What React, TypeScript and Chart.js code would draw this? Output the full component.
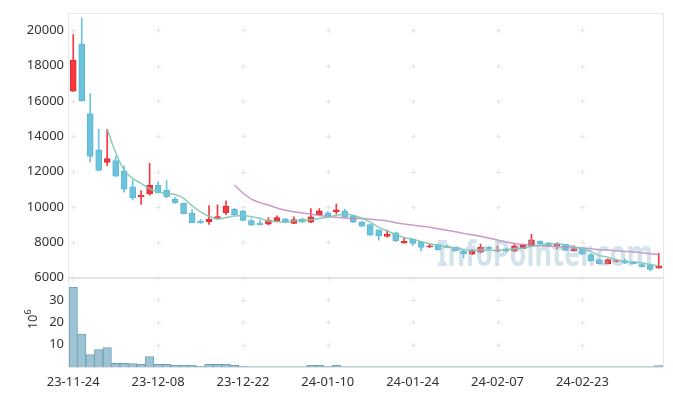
import React, { useEffect, useRef } from 'react';
import { Chart, registerables } from 'chart.js';

Chart.register(...registerables);

const dates = [
  '23-11-24', '23-11-27', '23-11-28', '23-11-29', '23-11-30', '23-12-01', '23-12-04', '23-12-05', '23-12-06', '23-12-07',
  '23-12-08', '23-12-11', '23-12-12', '23-12-13', '23-12-14', '23-12-15', '23-12-18', '23-12-19', '23-12-20', '23-12-21',
  '23-12-22', '23-12-26', '23-12-27', '23-12-28', '24-01-02', '24-01-03', '24-01-04', '24-01-05', '24-01-08', '24-01-09',
  '24-01-10', '24-01-11', '24-01-12', '24-01-15', '24-01-16', '24-01-17', '24-01-18', '24-01-19', '24-01-22', '24-01-23',
  '24-01-24', '24-01-25', '24-01-26', '24-01-29', '24-01-30', '24-01-31', '24-02-01', '24-02-02', '24-02-05', '24-02-06',
  '24-02-07', '24-02-08', '24-02-13', '24-02-14', '24-02-15', '24-02-16', '24-02-19', '24-02-20', '24-02-21', '24-02-22',
  '24-02-23', '24-02-26', '24-02-27', '24-02-28', '24-02-29', '24-03-04', '24-03-05', '24-03-06', '24-03-07', '24-03-08',
];

const opens = [
  16565, 19235, 15300, 13240, 12530, 12630, 12050, 11150, 10570, 10740,
  11230, 10950, 10440, 10220, 9660, 9200, 9170, 9380, 9680, 9865,
  9790, 9230, 9090, 9030, 9200, 9330, 9080, 9310, 9140, 9550,
  9680, 9740, 9780, 9500, 9140, 9010, 8710, 8340, 8540, 7960,
  8170, 8000, 7740, 7880, 7810, 7720, 7500, 7330, 7440, 7740,
  7500, 7630, 7500, 7650, 7810, 8080, 7980, 7790, 7890, 7530,
  7650, 7310, 7030, 6790, 6920, 6970, 6900, 6750, 6710, 6540,
];

const highs = [
  19760, 20700, 16430, 14400, 14400, 12890, 12330, 11540, 10930, 12480,
  11430, 11500, 10540, 10230, 9860, 9300, 10090, 10130, 10350, 9930,
  9800, 9330, 9270, 9400, 9500, 9350, 9440, 9370, 9920, 9920,
  9740, 10170, 9890, 9530, 9210, 9050, 8730, 8690, 8580, 8260,
  8200, 8060, 7890, 7900, 7870, 7740, 7610, 7610, 7910, 7780,
  7790, 7660, 7870, 7900, 8450, 8090, 8000, 7980, 7910, 7810,
  7680, 7380, 7050, 7050, 7010, 7070, 6930, 6780, 6750, 7400,
];

const lows = [
  16550, 16000, 12550, 12050, 12350, 11700, 10850, 10400, 10150, 10670,
  10780, 10520, 10200, 9610, 9110, 9080, 9020, 9310, 9570, 9520,
  9210, 8960, 8970, 8990, 9160, 9120, 9060, 9130, 9120, 9520,
  9380, 9610, 9430, 9120, 8880, 8390, 8130, 8300, 8040, 7950,
  7810, 7510, 7700, 7560, 7680, 7500, 7120, 7310, 7400, 7580,
  7480, 7460, 7480, 7640, 7800, 7900, 7760, 7610, 7530, 7500,
  7310, 6930, 6770, 6770, 6880, 6800, 6770, 6600, 6390, 6540,
];

const closes = [
  18320, 16005, 12870, 12070, 12740, 11750, 11020, 10520, 10670, 11230,
  10820, 10570, 10240, 9620, 9120, 9100, 9310, 9465, 10035, 9560,
  9250, 8970, 8990, 9270, 9400, 9140, 9290, 9140, 9440, 9780,
  9480, 9850, 9440, 9140, 8920, 8410, 8360, 8450, 8080, 8060,
  7940, 7720, 7800, 7580, 7720, 7530, 7350, 7530, 7720, 7610,
  7570, 7500, 7810, 7850, 8150, 7910, 7780, 7890, 7550, 7650,
  7330, 6970, 6790, 7030, 6970, 6820, 6800, 6620, 6470, 6670,
];

// volume in millions of shares
const volumes = [
  35.8, 14.8, 5.6, 7.8, 8.7, 1.7, 1.7, 1.5, 1.2, 4.7,
  1.2, 1.2, 0.8, 0.8, 0.8, 0.3, 1.2, 1.2, 1.2, 0.7,
  0.15, 0.12, 0.12, 0.1, 0.12, 0.1, 0.1, 0.12, 0.7, 0.7,
  0.15, 0.7, 0.12, 0.1, 0.12, 0.1, 0.1, 0.1, 0.12, 0.1,
  0.1, 0.1, 0.1, 0.1, 0.1, 0.1, 0.1, 0.1, 0.1, 0.1,
  0.1, 0.1, 0.1, 0.1, 0.12, 0.1, 0.1, 0.1, 0.1, 0.1,
  0.1, 0.1, 0.1, 0.1, 0.1, 0.1, 0.1, 0.1, 0.12, 0.6,
];

const priceTicks = [6000, 8000, 10000, 12000, 14000, 16000, 18000, 20000];
const volumeTicks = [10, 20, 30];
const labelEvery = 10;
const maShort = 5;
const maLong = 20;

const UP = '#f23a3f';
const UP_BORDER = '#dc2a2f';
const DOWN = '#6cc3dd';
const DOWN_BORDER = '#5fb8d3';
const FONT = '"Noto Sans", sans-serif';
const TEXT = '#333333';

function movingAverage(values: number[], win: number) {
  return values.map((_, i) => {
    if (i < win - 1) return null;
    let s = 0;
    for (let k = i - win + 1; k <= i; k++) s += values[k];
    return s / win;
  });
}

const decor = {
  id: 'decor',
  beforeDatasetsDraw(chart: any) {
    const { ctx, scales } = chart;
    const x = scales.x;
    const y = scales.y;
    const v = scales.v;
    const left = x.left;
    const right = x.right;
    ctx.save();
    // frame
    ctx.strokeStyle = '#e8e8e8';
    ctx.lineWidth = 1;
    ctx.beginPath();
    ctx.moveTo(Math.round(left) - 0.5, y.top);
    ctx.lineTo(Math.round(left) - 0.5, v.bottom);
    ctx.moveTo(left, Math.round(y.top) + 0.5);
    ctx.lineTo(right, Math.round(y.top) + 0.5);
    ctx.moveTo(Math.round(right) + 0.5, y.top);
    ctx.lineTo(Math.round(right) + 0.5, v.bottom);
    ctx.stroke();
    ctx.lineWidth = 2;
    ctx.strokeStyle = '#e4e4e4';
    ctx.beginPath();
    ctx.moveTo(left, Math.round(y.bottom));
    ctx.lineTo(right, Math.round(y.bottom));
    ctx.moveTo(left, Math.round(v.bottom));
    ctx.lineTo(right, Math.round(v.bottom));
    ctx.stroke();
    // plus markers
    ctx.strokeStyle = '#e4e4e4';
    ctx.lineWidth = 1;
    const xs: number[] = [];
    for (let i = 0; i < dates.length; i += labelEvery) xs.push(Math.round(x.getPixelForValue(i)) + 0.5);
    const ys: number[] = [];
    priceTicks.forEach((t) => ys.push(Math.round(y.getPixelForValue(t)) + 0.5));
    volumeTicks.forEach((t) => ys.push(Math.round(v.getPixelForValue(t)) + 0.5));
    ctx.beginPath();
    xs.forEach((px) => {
      ys.forEach((py) => {
        ctx.moveTo(px - 2.5, py);
        ctx.lineTo(px + 2.5, py);
        ctx.moveTo(px, py - 2.5);
        ctx.lineTo(px, py + 2.5);
      });
    });
    ctx.stroke();
    ctx.restore();
  },
  afterDatasetsDraw(chart: any) {
    const { ctx, scales } = chart;
    const v = scales.v;
    ctx.save();
    // watermark
    ctx.font = 'bold 36px ' + FONT;
    ctx.fillStyle = 'rgba(150, 188, 210, 0.42)';
    ctx.textAlign = 'left';
    ctx.textBaseline = 'alphabetic';
    const text = 'InfoPointer.com';
    const tw = ctx.measureText(text).width;
    ctx.save();
    ctx.translate(437, 266);
    ctx.scale(216 / tw, 1);
    ctx.fillText(text, 0, 0);
    ctx.restore();
    // 10^6 axis unit
    const cx = 33;
    const cy = (v.top + v.bottom) / 2 - 3;
    ctx.translate(cx, cy);
    ctx.rotate(-Math.PI / 2);
    ctx.fillStyle = TEXT;
    ctx.font = '13px ' + FONT;
    const w10 = ctx.measureText('10').width;
    ctx.font = '9px ' + FONT;
    const w6 = ctx.measureText('6').width;
    const total = w10 + w6;
    ctx.font = '13px ' + FONT;
    ctx.textBaseline = 'middle';
    ctx.fillText('10', -total / 2, 0);
    ctx.font = '9px ' + FONT;
    ctx.fillText('6', -total / 2 + w10, -5);
    ctx.restore();
  },
};

export default function App() {
  const ref = useRef<HTMLCanvasElement | null>(null);

  useEffect(() => {
    if (!ref.current) return;
    const upFlags = closes.map((c, i) => c >= opens[i]);
    const chart = new Chart(ref.current, {
      type: 'bar',
      data: {
        labels: dates,
        datasets: [
          {
            type: 'line',
            label: 'MA5',
            data: movingAverage(closes, maShort),
            yAxisID: 'y',
            borderColor: 'rgba(125, 200, 180, 0.9)',
            borderWidth: 1.5,
            pointRadius: 0,
            tension: 0.4,
            order: 0,
          } as any,
          {
            type: 'line',
            label: 'MA20',
            data: movingAverage(closes, maLong),
            yAxisID: 'y',
            borderColor: 'rgba(200, 140, 195, 0.9)',
            borderWidth: 1.5,
            pointRadius: 0,
            tension: 0.4,
            order: 0,
          } as any,
          {
            label: 'body',
            data: opens.map((o, i) => [o, closes[i]]),
            yAxisID: 'y',
            backgroundColor: upFlags.map((u) => (u ? UP : DOWN)),
            borderColor: upFlags.map((u) => (u ? UP_BORDER : DOWN_BORDER)),
            borderWidth: 1,
            borderSkipped: false,
            barThickness: 6,
            grouped: false,
            order: 1,
          } as any,
          {
            label: 'wick',
            data: lows.map((l, i) => [l, highs[i]]),
            yAxisID: 'y',
            backgroundColor: upFlags.map((u) => (u ? UP : DOWN)),
            borderWidth: 0,
            barThickness: 1,
            grouped: false,
            order: 2,
          } as any,
          {
            label: 'volume',
            data: volumes,
            yAxisID: 'v',
            backgroundColor: '#9dc3d4',
            borderColor: '#6f9fb5',
            borderWidth: 1,
            barPercentage: 1,
            categoryPercentage: 1,
            grouped: false,
            order: 3,
          } as any,
        ],
      },
      options: {
        animation: false,
        responsive: false,
        devicePixelRatio: 1,
        layout: { padding: { left: 0, right: 10, top: 10, bottom: 0 } },
        plugins: { legend: { display: false }, tooltip: { enabled: false } },
        scales: {
          x: {
            type: 'category',
            offset: true,
            grid: { display: false, drawTicks: false },
            border: { display: false },
            ticks: {
              autoSkip: false,
              maxRotation: 0,
              minRotation: 0,
              padding: 7,
              color: TEXT,
              font: { family: FONT, size: 13 },
              callback: (_v: any, i: number) => (i % labelEvery === 0 ? dates[i] : ''),
            },
            afterFit: (s: any) => {
              s.height = 29;
            },
          },
          y: {
            type: 'linear',
            position: 'left',
            stack: 'panels',
            stackWeight: 267,
            weight: 1,
            min: 6000,
            max: 21000,
            grid: { display: false, drawTicks: false },
            border: { display: false },
            afterBuildTicks: (s: any) => {
              s.ticks = priceTicks.map((value) => ({ value }));
            },
            ticks: {
              padding: 5,
              color: TEXT,
              font: { family: FONT, size: 13 },
              callback: (value: any) => String(value),
            },
            afterFit: (s: any) => {
              s.width = 69;
            },
          },
          v: {
            type: 'linear',
            position: 'left',
            stack: 'panels',
            stackWeight: 90,
            weight: 0,
            min: 0,
            max: 40,
            grid: { display: false, drawTicks: false },
            border: { display: false },
            afterBuildTicks: (s: any) => {
              s.ticks = volumeTicks.map((value) => ({ value }));
            },
            ticks: {
              padding: 5,
              color: TEXT,
              font: { family: FONT, size: 13 },
              callback: (value: any) => String(value),
            },
            afterFit: (s: any) => {
              s.width = 69;
            },
          },
        },
      } as any,
      plugins: [decor],
    });
    return () => chart.destroy();
  }, []);

  return (
    <div style={{ position: 'absolute', left: 0, top: 0, width: 673, height: 396, background: '#fff' }}>
      <canvas ref={ref} width={673} height={396} style={{ display: 'block' }} />
    </div>
  );
}
